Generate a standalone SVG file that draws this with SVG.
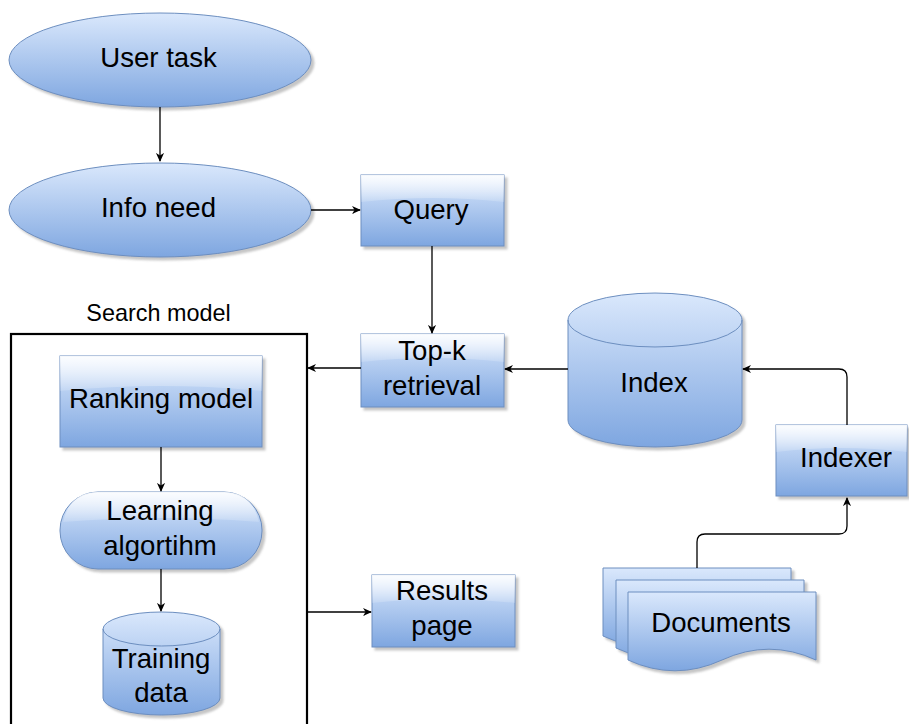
<svg xmlns="http://www.w3.org/2000/svg" width="909" height="724" viewBox="0 0 909 724">
  <defs>
    <linearGradient id="fillBlue" x1="0" y1="0" x2="0" y2="1">
      <stop offset="0" stop-color="#dae8fc"/>
      <stop offset="1" stop-color="#7ea6e0"/>
    </linearGradient>
    <linearGradient id="glass" x1="0" y1="0" x2="0" y2="1">
      <stop offset="0" stop-color="#ffffff" stop-opacity="0.9"/>
      <stop offset="1" stop-color="#ffffff" stop-opacity="0.15"/>
    </linearGradient>
    <filter id="shadow" x="-10%" y="-10%" width="125%" height="130%">
      <feDropShadow dx="3" dy="3" stdDeviation="1.2" flood-color="#808080" flood-opacity="0.45"/>
    </filter>
    <marker id="arrow" viewBox="0 0 10 10" refX="9" refY="5" markerWidth="9" markerHeight="9" markerUnits="userSpaceOnUse" orient="auto">
      <path d="M0,0.5 L10,5 L0,9.5 L3,5 z" fill="#000"/>
    </marker>
  </defs>
  <style>
    .shape { fill: url(#fillBlue); stroke: #6c8ebf; stroke-width: 1; filter: url(#shadow); }
    .gloss { fill: url(#glass); stroke: none; }
    .label { font-family: "Liberation Sans", Arial, Helvetica, sans-serif; font-size: 27.6px; fill: #000; text-anchor: middle; }
    .title { font-family: "Liberation Sans", Arial, Helvetica, sans-serif; font-size: 23.4px; fill: #000; text-anchor: middle; }
    .edge { fill: none; stroke: #000; stroke-width: 1.3; }
    .frame { fill: none; stroke: #000; stroke-width: 2.2; }
  </style>

  <!-- container frame -->
  <g id="search-model">
    <rect class="frame" x="11" y="334" width="296" height="420"/>
    <text class="title" x="158.5" y="321">Search model</text>
  </g>

  <g id="user-task">
    <ellipse class="shape" cx="160" cy="60" rx="151" ry="47"/>
    <text class="label" x="158.5" y="67">User task</text>
  </g>

  <g id="info-need">
    <ellipse class="shape" cx="160" cy="210" rx="151" ry="47"/>
    <text class="label" x="158.5" y="217">Info need</text>
  </g>

  <g id="query">
    <rect class="shape" x="361" y="175" width="143" height="71"/>
    <path class="gloss" d="M361,175 H504 V202 Q432.5,194 361,202 Z"/>
    <text class="label" x="431" y="219">Query</text>
  </g>

  <g id="top-k">
    <rect class="shape" x="361" y="334" width="143" height="73"/>
    <path class="gloss" d="M361,334 H504 V362 Q432.5,354 361,362 Z"/>
    <text class="label" x="432" y="360">Top-k</text>
    <text class="label" x="432" y="395">retrieval</text>
  </g>

  <g id="index">
    <path class="shape" d="M568,320 A87,27 0 0 1 742,320 V420 A87,27 0 0 1 568,420 Z"/>
    <path d="M568,320 A87,27 0 0 0 742,320" fill="none" stroke="#6c8ebf" stroke-width="1"/>
    <text class="label" x="654" y="392">Index</text>
  </g>

  <g id="indexer">
    <rect class="shape" x="776" y="425" width="131" height="71"/>
    <path class="gloss" d="M776,425 H907 V452 Q841.5,444 776,452 Z"/>
    <text class="label" x="846" y="467">Indexer</text>
  </g>

  <g id="ranking-model">
    <rect class="shape" x="60" y="356" width="202" height="91"/>
    <path class="gloss" d="M60,356 H262 V391 Q161,381 60,391 Z"/>
    <text class="label" x="161" y="408">Ranking model</text>
  </g>

  <g id="learning-algorithm">
    <rect class="shape" x="60" y="492" width="202" height="77" rx="38" ry="38"/>
    <path class="gloss" d="M98,492 H224 Q252,492 259,522 Q161,514 63,522 Q70,492 98,492 Z"/>
    <text class="label" x="160" y="520">Learning</text>
    <text class="label" x="160" y="555">algortihm</text>
  </g>

  <g id="training-data">
    <path class="shape" d="M103,629 A58.5,17 0 0 1 220,629 V698 A58.5,17 0 0 1 103,698 Z"/>
    <path d="M103,629 A58.5,17 0 0 0 220,629" fill="none" stroke="#6c8ebf" stroke-width="1"/>
    <text class="label" x="161" y="668">Training</text>
    <text class="label" x="161" y="702">data</text>
  </g>

  <g id="results-page">
    <rect class="shape" x="372" y="575" width="143" height="72"/>
    <path class="gloss" d="M372,575 H515 V603 Q443.5,595 372,603 Z"/>
    <text class="label" x="442" y="600">Results</text>
    <text class="label" x="442" y="635">page</text>
  </g>

  <!-- stacked document shape, back to front -->
  <g id="documents">
    <path class="shape" d="M603,568 H791 V636 Q744,614.4 697,636 Q650,657.6 603,636 Z"/>
    <path class="shape" d="M616,580 H804 V648 Q757,626.4 710,648 Q663,669.6 616,648 Z"/>
    <path class="shape" d="M628,592 H816 V660 Q769,638.4 722,660 Q675,681.6 628,660 Z"/>
    <text class="label" x="721" y="632">Documents</text>
  </g>

  <g id="connectors">
    <path class="edge" d="M160,107 V161" marker-end="url(#arrow)"/>
    <path class="edge" d="M311,210 H360" marker-end="url(#arrow)"/>
    <path class="edge" d="M432,246 V333" marker-end="url(#arrow)"/>
    <path class="edge" d="M568,369 H505" marker-end="url(#arrow)"/>
    <path class="edge" d="M361,368 H308" marker-end="url(#arrow)"/>
    <path class="edge" d="M847,425 V377 Q847,369 839,369 H743" marker-end="url(#arrow)"/>
    <path class="edge" d="M697,568 V542 Q697,534 705,534 H839 Q847,534 847,526 V498" marker-end="url(#arrow)"/>
    <path class="edge" d="M161,447 V491" marker-end="url(#arrow)"/>
    <path class="edge" d="M161,569 V611" marker-end="url(#arrow)"/>
    <path class="edge" d="M308,612 H371" marker-end="url(#arrow)"/>
  </g>
</svg>
